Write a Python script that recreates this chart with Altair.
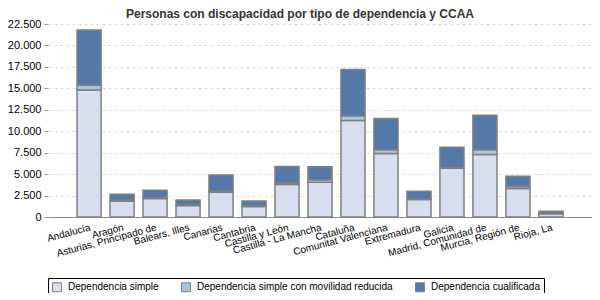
import altair as alt
import pandas as pd

ccaa = ["Andalucía", "Aragón", "Asturias, Principado de", "Balears, Illes", "Canarias",
        "Cantabria", "Castilla y León", "Castilla - La Mancha", "Cataluña",
        "Comunitat Valenciana", "Extremadura", "Galicia", "Madrid, Comunidad de",
        "Murcia, Región de", "Rioja, La"]
simple = [14800, 1850, 2150, 1330, 2900, 1220, 3800, 4050, 11250, 7400, 2040, 5680, 7300, 3330, 370]
reducida = [550, 100, 80, 70, 100, 50, 150, 300, 550, 430, 40, 50, 550, 230, 30]
cualificada = [6450, 700, 880, 580, 1900, 600, 1950, 1520, 5400, 3650, 920, 2400, 4000, 1180, 260]

series = ["Dependencia simple", "Dependencia simple con movilidad reducida", "Dependencia cualificada"]
colors = ["#D9DEEE", "#A9C4E2", "#5478A8"]

rows = []
for i, c in enumerate(ccaa):
    for k, (s, vals) in enumerate(zip(series, [simple, reducida, cualificada])):
        rows.append({"ccaa": c, "serie": s, "valor": vals[i], "orden": k})
df = pd.DataFrame(rows)

font = "Liberation Sans"

chart = alt.Chart(df).mark_bar(stroke="#808080", strokeWidth=1.5).encode(
    x=alt.X("ccaa:N", sort=ccaa, title=None,
            scale=alt.Scale(paddingInner=0.27, paddingOuter=0.88),
            axis=alt.Axis(labelAngle=-15, labelAlign="right", labelBaseline="top",
                          ticks=False, labelPadding=5, domainColor="#888888",
                          labelFontSize=10, labelColor="#000000", labelFont=font,
                          grid=False, labelOverlap=False)),
    y=alt.Y("valor:Q", stack="zero", title=None,
            scale=alt.Scale(domain=[0, 22500], nice=False),
            axis=alt.Axis(values=list(range(0, 22501, 2500)), format=",d",
                          labelFontSize=11, labelColor="#000000", labelFont=font,
                          domain=False, tickSize=4, tickColor="#999999",
                          gridDash=[3, 3], gridColor="#DDDDDD", labelPadding=3)),
    color=alt.Color("serie:N", sort=series, title=None,
                    scale=alt.Scale(domain=series, range=colors),
                    legend=alt.Legend(orient="none", legendX=0, legendY=254,
                                      direction="horizontal", symbolType="square",
                                      symbolSize=80, symbolStrokeColor="#808080",
                                      symbolStrokeWidth=1, labelFontSize=10,
                                      labelFont=font, labelColor="#000000",
                                      strokeColor="#000000", fillColor="#FFFFFF",
                                      padding=4, columnPadding=20, labelOffset=6,
                                      labelLimit=300)),
    order=alt.Order("orden:Q", sort="ascending"),
).properties(
    width=544, height=193,
    title=alt.TitleParams("Personas con discapacidad por tipo de dependencia y CCAA",
                          fontSize=12, font=font, fontWeight="bold", color="#333333",
                          anchor="middle", dx=-20, offset=-3),
    autosize=alt.AutoSizeParams(type="none"),
    padding={"left": 40, "top": 16, "right": 0, "bottom": 76},
).configure(
    locale={"number": {"decimal": ",", "thousands": ".", "grouping": [3], "currency": ["", " €"]}}
).configure_view(stroke=None)

chart.save("out.html", embed_options={"renderer": "svg", "actions": False})
